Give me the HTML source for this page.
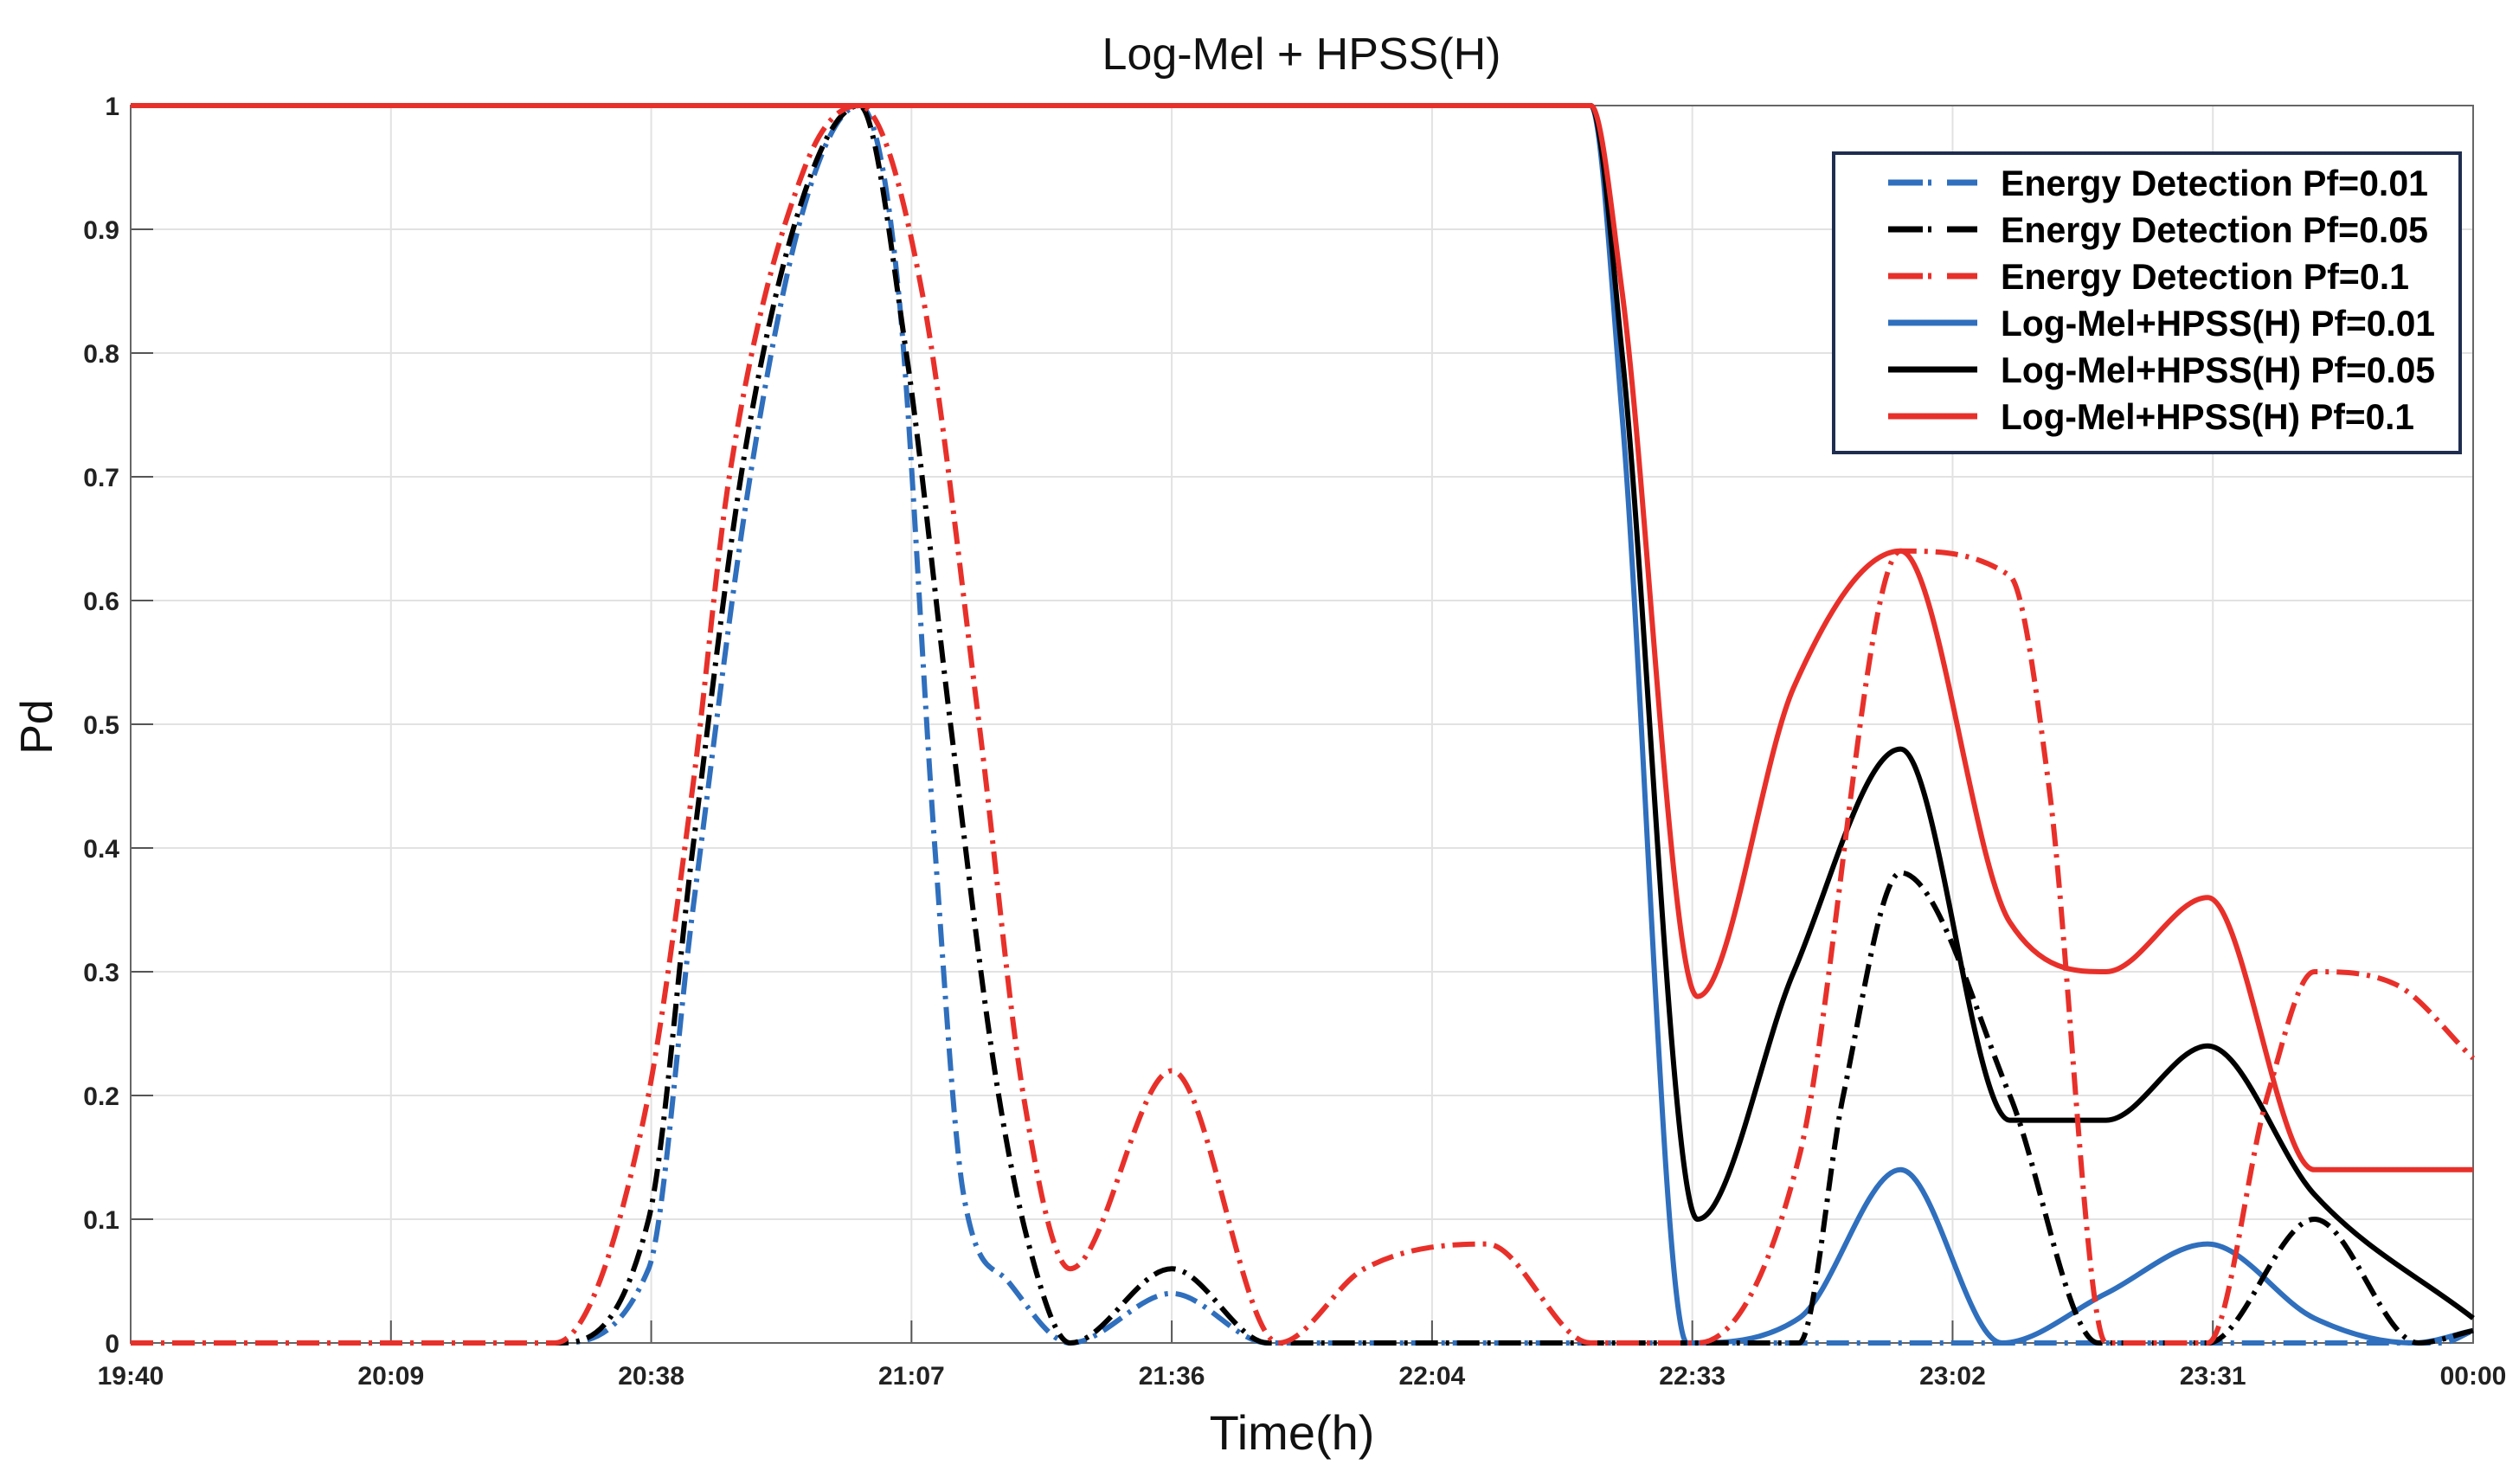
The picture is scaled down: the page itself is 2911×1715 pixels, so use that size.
<!DOCTYPE html>
<html><head><meta charset="utf-8"><style>
html,body{margin:0;padding:0;background:#fff;}
svg{display:block;font-family:"Liberation Sans",sans-serif;}
</style></head><body>
<svg id="chart" width="2911" height="1715" viewBox="0 0 2911 1715" xmlns="http://www.w3.org/2000/svg">
<g id="grid"></g>
<g id="axes"></g>
<g id="series"></g>
<text x="1504" y="80" text-anchor="middle" font-size="52" fill="#111">Log-Mel + HPSS(H)</text>
<text x="1493" y="1675" text-anchor="middle" font-size="56" fill="#111">Time(h)</text>
<text transform="translate(60,840) rotate(-90)" text-anchor="middle" font-size="52" fill="#111">Pd</text>
<g id="legend"></g>
</svg>
<script>
const xTickLabels = ["19:40","20:09","20:38","21:07","21:36","22:04","22:33","23:02","23:31","00:00"];
const yTickLabels = ["0","0.1","0.2","0.3","0.4","0.5","0.6","0.7","0.8","0.9","1"];
const yTickValues = [0,0.1,0.2,0.3,0.4,0.5,0.6,0.7,0.8,0.9,1];
// x in tick-interval units (0 = 19:40, 9 = 00:00)
const edBlueX = [0,1.63,1.99,2.16,2.38,2.59,2.80,2.95,3.09,3.20,3.37,3.61,4.00,4.37,8.88,9];
const edBlueY = [0,0,0.06,0.35,0.7,0.92,1,0.85,0.4,0.12,0.05,0,0.04,0,0,0.01];
const edBlackX = [0,1.63,1.99,2.16,2.36,2.59,2.80,2.98,3.15,3.32,3.45,3.61,4.00,4.37,6.41,6.58,6.80,7.22,7.56,7.98,8.39,8.79,9];
const edBlackY = [0,0,0.1,0.4,0.72,0.93,1,0.8,0.5,0.22,0.08,0,0.06,0,0,0.2,0.38,0.2,0,0,0.1,0,0.01];
const edRedX = [0,1.63,1.97,2.16,2.30,2.59,2.80,3.04,3.26,3.43,3.61,4.00,4.41,4.74,5.21,5.61,6.02,6.41,6.80,7.22,7.37,7.59,7.98,8.21,8.39,8.70,9];
const edRedY = [0,0,0.18,0.45,0.7,0.95,1,0.85,0.5,0.2,0.06,0.22,0,0.06,0.08,0,0,0.15,0.64,0.62,0.45,0,0,0.2,0.3,0.29,0.23];
const lmBlueX = [0,5.61,5.73,5.98,6.41,6.80,7.19,7.59,7.98,8.39,8.77,9];
const lmBlueY = [1,1,0.75,0,0.02,0.14,0,0.04,0.08,0.02,0,0.01];
const lmBlackX = [0,5.61,5.73,6.02,6.39,6.80,7.22,7.59,7.98,8.39,9];
const lmBlackY = [1,1,0.8,0.1,0.3,0.48,0.18,0.18,0.24,0.12,0.02];
const lmRedX = [0,5.61,5.73,6.02,6.39,6.80,7.22,7.59,7.98,8.39,9];
const lmRedY = [1,1,0.85,0.28,0.53,0.64,0.34,0.3,0.36,0.14,0.14];

const L=151,R=2858,T=122,B=1552;
const sx=v=>L+(R-L)*v/9, sy=v=>B-(B-T)*v;
const NS="http://www.w3.org/2000/svg";
function mk(tag,attrs,parent){const e=document.createElementNS(NS,tag);for(const k in attrs)e.setAttribute(k,attrs[k]);parent.appendChild(e);return e;}
const grid=document.getElementById('grid'),axes=document.getElementById('axes'),ser=document.getElementById('series'),leg=document.getElementById('legend');
for(let i=0;i<xTickLabels.length;i++){
  const x=sx(i);
  const g=mk('line',{x1:x,y1:T,x2:x,y2:B,stroke:'#e2e2e2','stroke-width':2},grid);
  
  
  const tk=mk('line',{x1:x,y1:B,x2:x,y2:B-26,stroke:'#555','stroke-width':2},axes);
  
  
  const t=mk('text',{x:x,y:1600,'text-anchor':'middle','font-size':30,'font-weight':'bold',fill:'#222'},axes);
  t.textContent=xTickLabels[i];
  
  
}
for(let i=0;i<yTickValues.length;i++){
  const y=sy(yTickValues[i]);
  const g=mk('line',{x1:L,y1:y,x2:R,y2:y,stroke:'#e2e2e2','stroke-width':2},grid);
  
  
  const tk=mk('line',{x1:L,y1:y,x2:L+26,y2:y,stroke:'#555','stroke-width':2},axes);
  
  
  const t=mk('text',{x:138,y:y+11,'text-anchor':'end','font-size':30,'font-weight':'bold',fill:'#222'},axes);
  t.textContent=yTickLabels[i];
  
  
}
const frame=mk('rect',{x:L,y:T,width:R-L,height:B-T,fill:'none',stroke:'#666','stroke-width':2},axes);



function monoPath(xs,ys){
  const n=xs.length,px=xs.map(sx),py=ys.map(sy);
  const d=[],m=[];
  for(let i=0;i<n-1;i++)d.push((py[i+1]-py[i])/(px[i+1]-px[i]));
  for(let i=0;i<n;i++){
    if(i===0)m.push(d[0]);else if(i===n-1)m.push(d[n-2]);
    else m.push(d[i-1]*d[i]<=0?0:(d[i-1]+d[i])/2);
  }
  for(let i=0;i<n-1;i++){if(d[i]===0){m[i]=0;m[i+1]=0;}else{const a=m[i]/d[i],b=m[i+1]/d[i];const s=a*a+b*b;if(s>9){const t=3/Math.sqrt(s);m[i]=t*a*d[i];m[i+1]=t*b*d[i];}}}
  let p=`M${px[0]},${py[0]}`;
  for(let i=0;i<n-1;i++){const h=(px[i+1]-px[i])/3;p+=` C${px[i]+h},${py[i]+m[i]*h} ${px[i+1]-h},${py[i+1]-m[i+1]*h} ${px[i+1]},${py[i+1]}`;}
  return p;
}
const BLUE='#2f6fbd',BLACK='#000',RED='#e8302a',DASH='26 9 4 9';
const list=[
 [lmBlueX,lmBlueY,BLUE,null,'logmel-pf001-line'],
 [lmBlackX,lmBlackY,BLACK,null,'logmel-pf005-line'],
 [edBlueX,edBlueY,BLUE,DASH,'energy-pf001-line'],
 [edBlackX,edBlackY,BLACK,DASH,'energy-pf005-line'],
 [edRedX,edRedY,RED,DASH,'energy-pf01-line'],
 [lmRedX,lmRedY,RED,null,'logmel-pf01-line'],
];
for(const s of list){
  const a={d:monoPath(s[0],s[1]),fill:'none',stroke:s[2],'stroke-width':6,'stroke-linejoin':'round'};
  if(s[3])a['stroke-dasharray']=s[3];
  const p=mk('path',a,ser);
  
  
}
const lb=mk('rect',{x:2119,y:177,width:724,height:346,fill:'#fff',stroke:'#1f2d4f','stroke-width':4},leg);


const entries=[['Energy Detection Pf=0.01',BLUE,true],['Energy Detection Pf=0.05',BLACK,true],['Energy Detection Pf=0.1',RED,true],['Log-Mel+HPSS(H) Pf=0.01',BLUE,false],['Log-Mel+HPSS(H) Pf=0.05',BLACK,false],['Log-Mel+HPSS(H) Pf=0.1',RED,false]];
const widths=[494,494,472,502,502,478];
entries.forEach((e,i)=>{
  const y=211+i*54;
  const a={x1:2182,y1:y,x2:2285,y2:y,stroke:e[1],'stroke-width':7};
  if(e[2])a['stroke-dasharray']='40 6 4 18 30 0';
  const ln=mk('line',a,leg);
  
  
  const t=mk('text',{x:2312,y:y+15,'font-size':42,'font-weight':'bold',fill:'#000',textLength:widths[i],lengthAdjust:'spacingAndGlyphs'},leg);
  t.textContent=e[0];
  
  
});
</script>
</body></html>
